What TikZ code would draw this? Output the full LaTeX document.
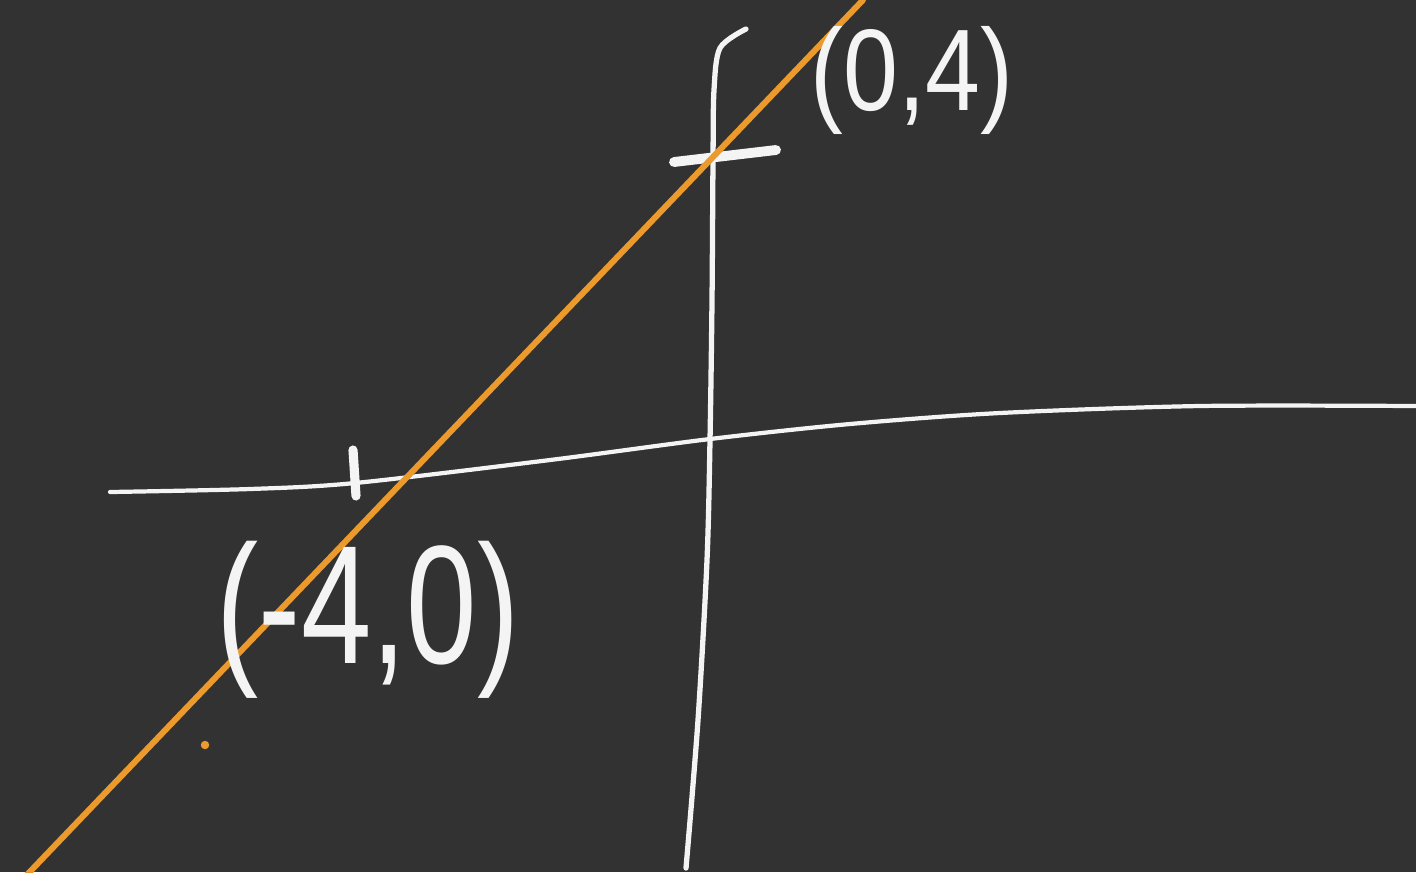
\documentclass[tikz,border=0pt]{standalone}
\usepackage{fontspec}
\setmainfont{Liberation Sans}
\usepackage{tikz}
\usetikzlibrary{calc}
\definecolor{board-bg}{HTML}{323232}
\definecolor{board-ink}{HTML}{F4F4F4}
\definecolor{board-line}{HTML}{EC9A2C}

\begin{document}
\begin{tikzpicture}[x=0.01cm, y=-0.01cm, line cap=round, line join=round]
    % Board
    \fill[board-bg] (0,0) rectangle (1416,872);
    \useasboundingbox (0,0) rectangle (1416,872);
    % x-axis
    \draw[board-ink, line width=1.2pt, smooth] plot coordinates {(110,492) (250,489) (355,483) (550,460) (710,439) (850,424) (1000,413) (1200,406) (1416,406)};
    \draw[board-ink, line width=2.6pt] (353,450) -- (356,496);
    % y-axis
    \draw[board-ink, line width=1.5pt, smooth] plot coordinates {(686,868) (698,720) (707,560) (710,440) (712,300) (713,160) (714,90) (720,48) (746,29)};
    \draw[board-ink, line width=2.8pt] (674,162) -- (776,150);
    % Line through the intercepts
    \coordinate (xcut) at (410,474);
    \coordinate (ycut) at (712,158);
    \draw[board-line, line width=1.7pt] ($(xcut)!-1.30!(ycut)$) -- ($(ycut)!-0.50!(xcut)$);
    \fill[board-line] (205,745) circle (1.2pt);
    % Labels
    \node[board-ink, xscale=0.85, font=\fontsize{33}{36}\selectfont] (ylabel) at (912,80) {(0,4)};
    \node[board-ink, xscale=0.75, font=\fontsize{48}{52}\selectfont] (xlabel) at (368,620) {(-4,0)};
\end{tikzpicture}
\end{document}
